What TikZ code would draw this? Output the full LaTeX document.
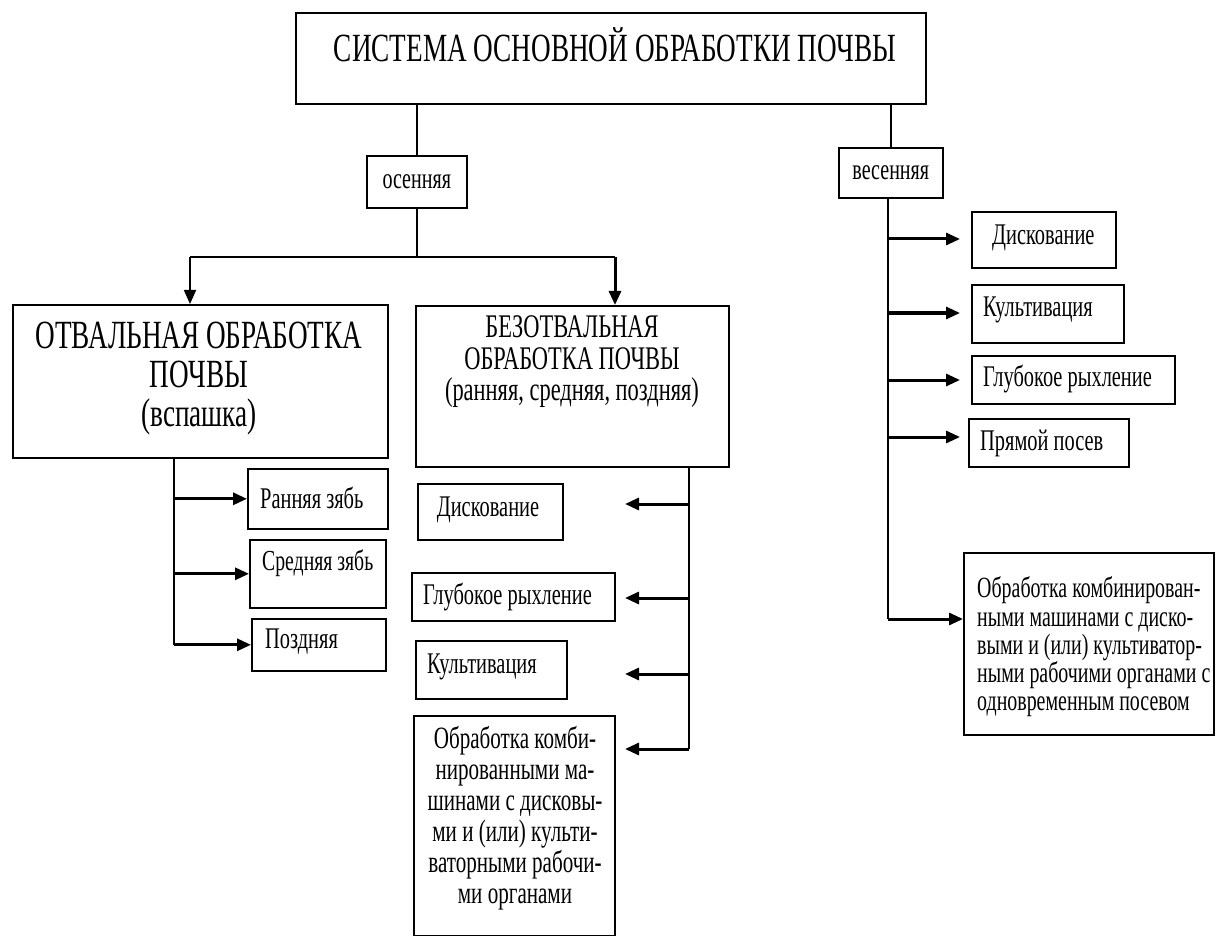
\documentclass[tikz,border=0pt]{standalone}
\usepackage{fontspec}
\setmainfont{Liberation Serif}[FakeStretch=0.68]
\usetikzlibrary{arrows.meta,calc}
\begin{document}
\begin{tikzpicture}[x=1pt,y=-1pt,
  box/.style={draw, line width=1.6pt, inner sep=0pt, anchor=north west},
  txt/.style={inner sep=0pt, font=\fontsize{30}{33}\selectfont},
  conn/.style={line width=1.5pt},
  arr/.style={line width=3pt, -{Triangle[length=14pt,width=12pt]}},
  arrthin/.style={line width=1.8pt, -{Triangle[length=14pt,width=12pt]}}]
\useasboundingbox[fill=white] (0,0) rectangle (1227,936);

% top
\node[box, minimum width=630pt, minimum height=91pt] (top) at (295,12) {};
\node[txt, font=\fontsize{40}{44}\selectfont] (topT) at (615,45) {СИСТЕМА ОСНОВНОЙ ОБРАБОТКИ ПОЧВЫ};

% seasons
\node[box, minimum width=100pt, minimum height=52pt, font=\fontsize{29.5}{32}\selectfont] (osen) at (366,155) {осенняя};
\node[box, minimum width=104pt, minimum height=50pt, font=\fontsize{29.5}{32}\selectfont] (vesen) at (838,147) {весенняя};
\draw[conn] (osen.north |- top.south) -- (osen.north);
\draw[conn] (vesen.north |- top.south) -- (vesen.north);

% main branches
\node[box, minimum width=375pt, minimum height=153pt] (otv) at (12,304) {};
\node[txt, align=center, font=\fontsize{40}{39}\selectfont] (otvT) at (199,379) {ОТВАЛЬНАЯ ОБРАБОТКА\\ПОЧВЫ\\(вспашка)};
\node[box, minimum width=313pt, minimum height=161pt] (bez) at (415,305) {};
\node[txt, align=center, font=\fontsize{33}{31.5}\selectfont] (bezT) at (572,362) {БЕЗОТВАЛЬНАЯ\\ОБРАБОТКА ПОЧВЫ\\(ранняя, средняя, поздняя)};

\coordinate (split) at (osen.south |- 0,257);
\coordinate (aL) at (190,257);
\coordinate (aR) at (615,257);
\draw[conn] (osen.south) -- (split);
\draw[conn] (aL) -- (aR);
\draw[arrthin] (aL) -- (aL |- otv.north);
\draw[arr] (aR) -- (aR |- bez.north);

% left subtree
\node[box, minimum width=140pt, minimum height=60pt] (r1) at (247,468) {};
\node[box, minimum width=136pt, minimum height=68pt] (r2) at (249,539) {};
\node[box, minimum width=134pt, minimum height=52pt] (r3) at (251,618) {};
\node[txt, anchor=west] (r1T) at (260,498) {Ранняя зябь};
\node[txt, anchor=west, font=\fontsize{29}{32}\selectfont] (r2T) at (262,563) {Средняя зябь};
\node[txt, anchor=west] (r3T) at (265,642) {Поздняя};
\coordinate (lv) at (174,457);
\draw[line width=2.4pt] (lv) -- (lv |- r3.west);
\draw[arr] (lv |- r1.west) -- (r1.west);
\draw[arr] (lv |- r2.west) -- (r2.west);
\draw[arr] (lv |- r3.west) -- (r3.west);

% middle subtree
\node[box, minimum width=145pt, minimum height=56pt] (m1) at (417,483) {};
\node[box, minimum width=203pt, minimum height=48pt] (m2) at (411,572) {};
\node[box, minimum width=151pt, minimum height=58pt] (m3) at (415,640) {};
\node[box, minimum width=201pt, minimum height=220pt] (m4) at (413,715) {};
\node[txt] (m1T) at (488,510) {Дискование};
\node[txt, anchor=west] (m2T) at (423,597) {Глубокое рыхление};
\node[txt, anchor=west] (m3T) at (427,667) {Культивация};
\node[txt, align=center, font=\fontsize{31}{31}\selectfont] (m4T) at (515,818) {Обработка комби-\\нированными ма-\\шинами с дисковы-\\ми и (или) культи-\\ваторными рабочи-\\ми органами};
\coordinate (mv) at (689,466);
\coordinate (mb) at (689,749);
\coordinate (c1) at (625,504);
\coordinate (c2) at (625,598);
\coordinate (c3) at (625,674);
\coordinate (c4) at (625,749);
\draw[conn] (mv) -- (mb);
\draw[arr] (mv |- c1) -- (c1);
\draw[arr] (mv |- c2) -- (c2);
\draw[arr] (mv |- c3) -- (c3);
\draw[arr] (mb) -- (c4);

% right subtree
\node[box, minimum width=144pt, minimum height=56pt] (s1) at (971,211) {};
\node[box, minimum width=152pt, minimum height=58pt] (s2) at (971,284) {};
\node[box, minimum width=203pt, minimum height=48pt] (s3) at (971,355) {};
\node[box, minimum width=160pt, minimum height=48pt] (s4) at (968,418) {};
\node[box, minimum width=250pt, minimum height=182pt] (s5) at (963,552) {};
\node[txt, anchor=west] (s1T) at (992,238) {Дискование};
\node[txt, anchor=west] (s2T) at (983,310) {Культивация};
\node[txt, anchor=west] (s3T) at (983,379) {Глубокое рыхление};
\node[txt, anchor=west] (s4T) at (980,443) {Прямой посев};
\node[txt, anchor=west, align=left, font=\fontsize{29.3}{28.3}\selectfont] (s5T) at (977,647) {Обработка комбинирован-\\ными машинами с диско-\\выми и (или) культиватор-\\ными рабочими органами с\\одновременным посевом};
\coordinate (rv) at (888,197);
\coordinate (rb) at (888,619);
\coordinate (d1) at (960,239);
\coordinate (d2) at (960,313);
\coordinate (d3) at (960,380);
\coordinate (d4) at (960,437);
\draw[line width=2.4pt] (rv) -- (rb);
\draw[arr] (rv |- d1) -- (d1);
\draw[arr] (rv |- d2) -- (d2);
\draw[arr] (rv |- d3) -- (d3);
\draw[arr] (rv |- d4) -- (d4);
\draw[arr] (rb) -- (rb -| s5.west);
\end{tikzpicture}
\end{document}
